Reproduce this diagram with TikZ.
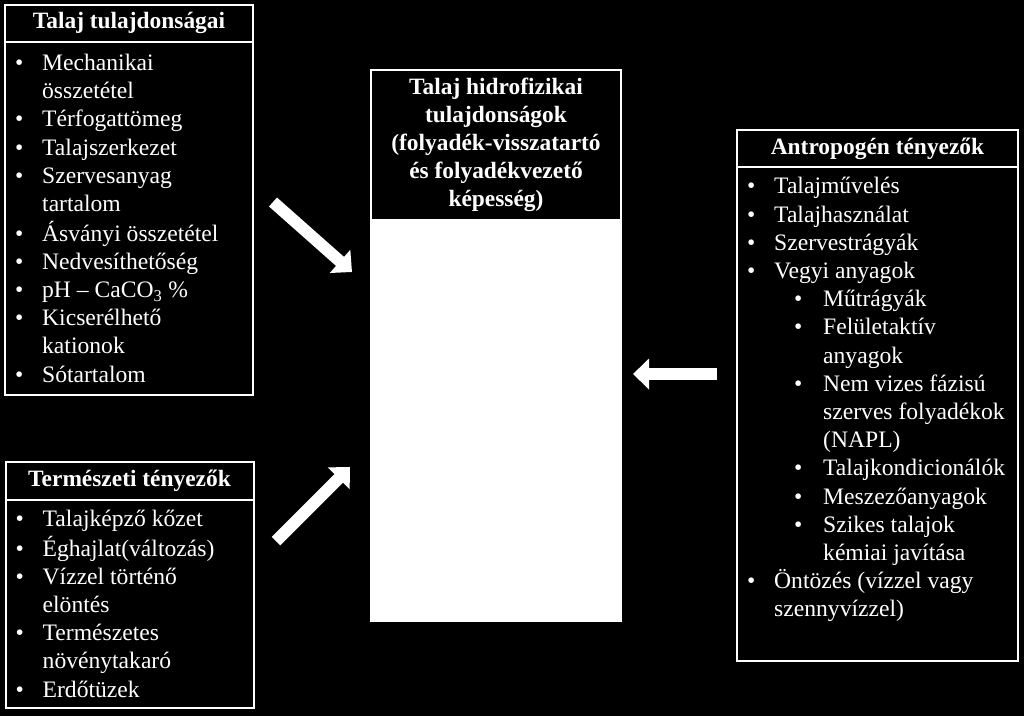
\documentclass[tikz,border=0pt]{standalone}
\usepackage{fontspec}
\setmainfont{Liberation Serif}
\usetikzlibrary{positioning,arrows.meta}

\newcommand{\li}[1]{\strut\makebox[27pt][l]{\textbullet}#1}
\newcommand{\lc}[1]{\strut\hspace*{27pt}#1}
\newcommand{\sli}[1]{\strut\hspace*{47pt}\makebox[29pt][l]{\textbullet}#1}
\newcommand{\slc}[1]{\strut\hspace*{76pt}#1}

\tikzset{
  frame/.style={draw=white, line width=2pt, inner sep=0pt, outer sep=0pt},
  headbox/.style={frame, fill=black, text=white, minimum height=37pt,
    font=\fontsize{23.4}{28}\selectfont\bfseries},
  listtext/.style={text=white, inner sep=0pt, align=left,
    font=\fontsize{23.6}{28.2}\selectfont},
  bigarrow/.style={white, line width=12pt, -{Triangle[length=16pt,width=30pt]}}
}

\begin{document}
\begin{tikzpicture}[x=1pt,y=-1pt]
    \fill[black] (0,0) rectangle (1024,716);
    \useasboundingbox (0,0) rectangle (1024,716);

    % Talaj tulajdonsagai
    \node[headbox, minimum width=248pt] (tulhead) at (129,23) {Talaj tulajdonságai};
    \node[frame, minimum width=248pt, minimum height=353pt, below=0pt of tulhead] (tulbody) {};
    \node[listtext, below right=9pt and 10pt of tulbody.north west] (tullist) {%
      \li{Mechanikai}\\ \lc{összetétel}\\ \li{Térfogattömeg}\\ \li{Talajszerkezet}\\
      \li{Szervesanyag}\\ \lc{tartalom}\\ \li{Ásványi összetétel}\\ \li{Nedvesíthetőség}\\
      \li{pH – CaCO\textsubscript{3} \%}\\ \li{Kicserélhető}\\ \lc{kationok}\\ \li{Sótartalom}};

    % Termeszeti tenyezok
    \node[headbox, minimum width=248pt, minimum height=38pt] (termhead) at (129.5,480.5) {Természeti tényezők};
    \node[frame, minimum width=248pt, minimum height=208pt, below=0pt of termhead] (termbody) {};
    \node[listtext, below right=7pt and 10pt of termbody.north west] (termlist) {%
      \li{Talajképző kőzet}\\ \li{Éghajlat(változás)}\\ \li{Vízzel történő}\\ \lc{elöntés}\\
      \li{Természetes}\\ \lc{növénytakaró}\\ \li{Erdőtüzek}};

    % Talaj hidrofizikai tulajdonsagok
    \node[headbox, minimum width=250pt, minimum height=150pt, align=center] (hidrohead) at (496,145)
      {Talaj hidrofizikai\\ tulajdonságok\\ (folyadék-visszatartó\\ és folyadékvezető\\ képesség)};
    \node[frame, fill=white, minimum width=250pt, minimum height=401pt, below=0pt of hidrohead] (hidrobody) {};

    % Antropogen tenyezok
    \node[headbox, minimum width=281pt] (antrhead) at (877.5,148.5) {Antropogén tényezők};
    \node[frame, minimum width=281pt, minimum height=494pt, below=0pt of antrhead] (antrbody) {};
    \node[listtext, below right=7pt and 10pt of antrbody.north west] (antrlist) {%
      \li{Talajművelés}\\ \li{Talajhasználat}\\ \li{Szervestrágyák}\\ \li{Vegyi anyagok}\\
      \sli{Műtrágyák}\\ \sli{Felületaktív}\\ \slc{anyagok}\\ \sli{Nem vizes fázisú}\\
      \slc{szerves folyadékok}\\ \slc{(NAPL)}\\ \sli{Talajkondicionálók}\\ \sli{Meszezőanyagok}\\
      \sli{Szikes talajok}\\ \slc{kémiai javítása}\\ \li{Öntözés (vízzel vagy}\\ \lc{szennyvízzel)}};

    % Arrows
    \coordinate (tulout) at (273,202);
    \coordinate (tulin) at (352,272);
    \coordinate (termout) at (276,541);
    \coordinate (termin) at (350,467);
    \coordinate (antrout) at (717,374);
    \coordinate (antrin) at (633,374);
    \draw[bigarrow] (tulout) -- (tulin);
    \draw[bigarrow] (termout) -- (termin);
    \draw[bigarrow] (antrout) -- (antrin);
\end{tikzpicture}
\end{document}
